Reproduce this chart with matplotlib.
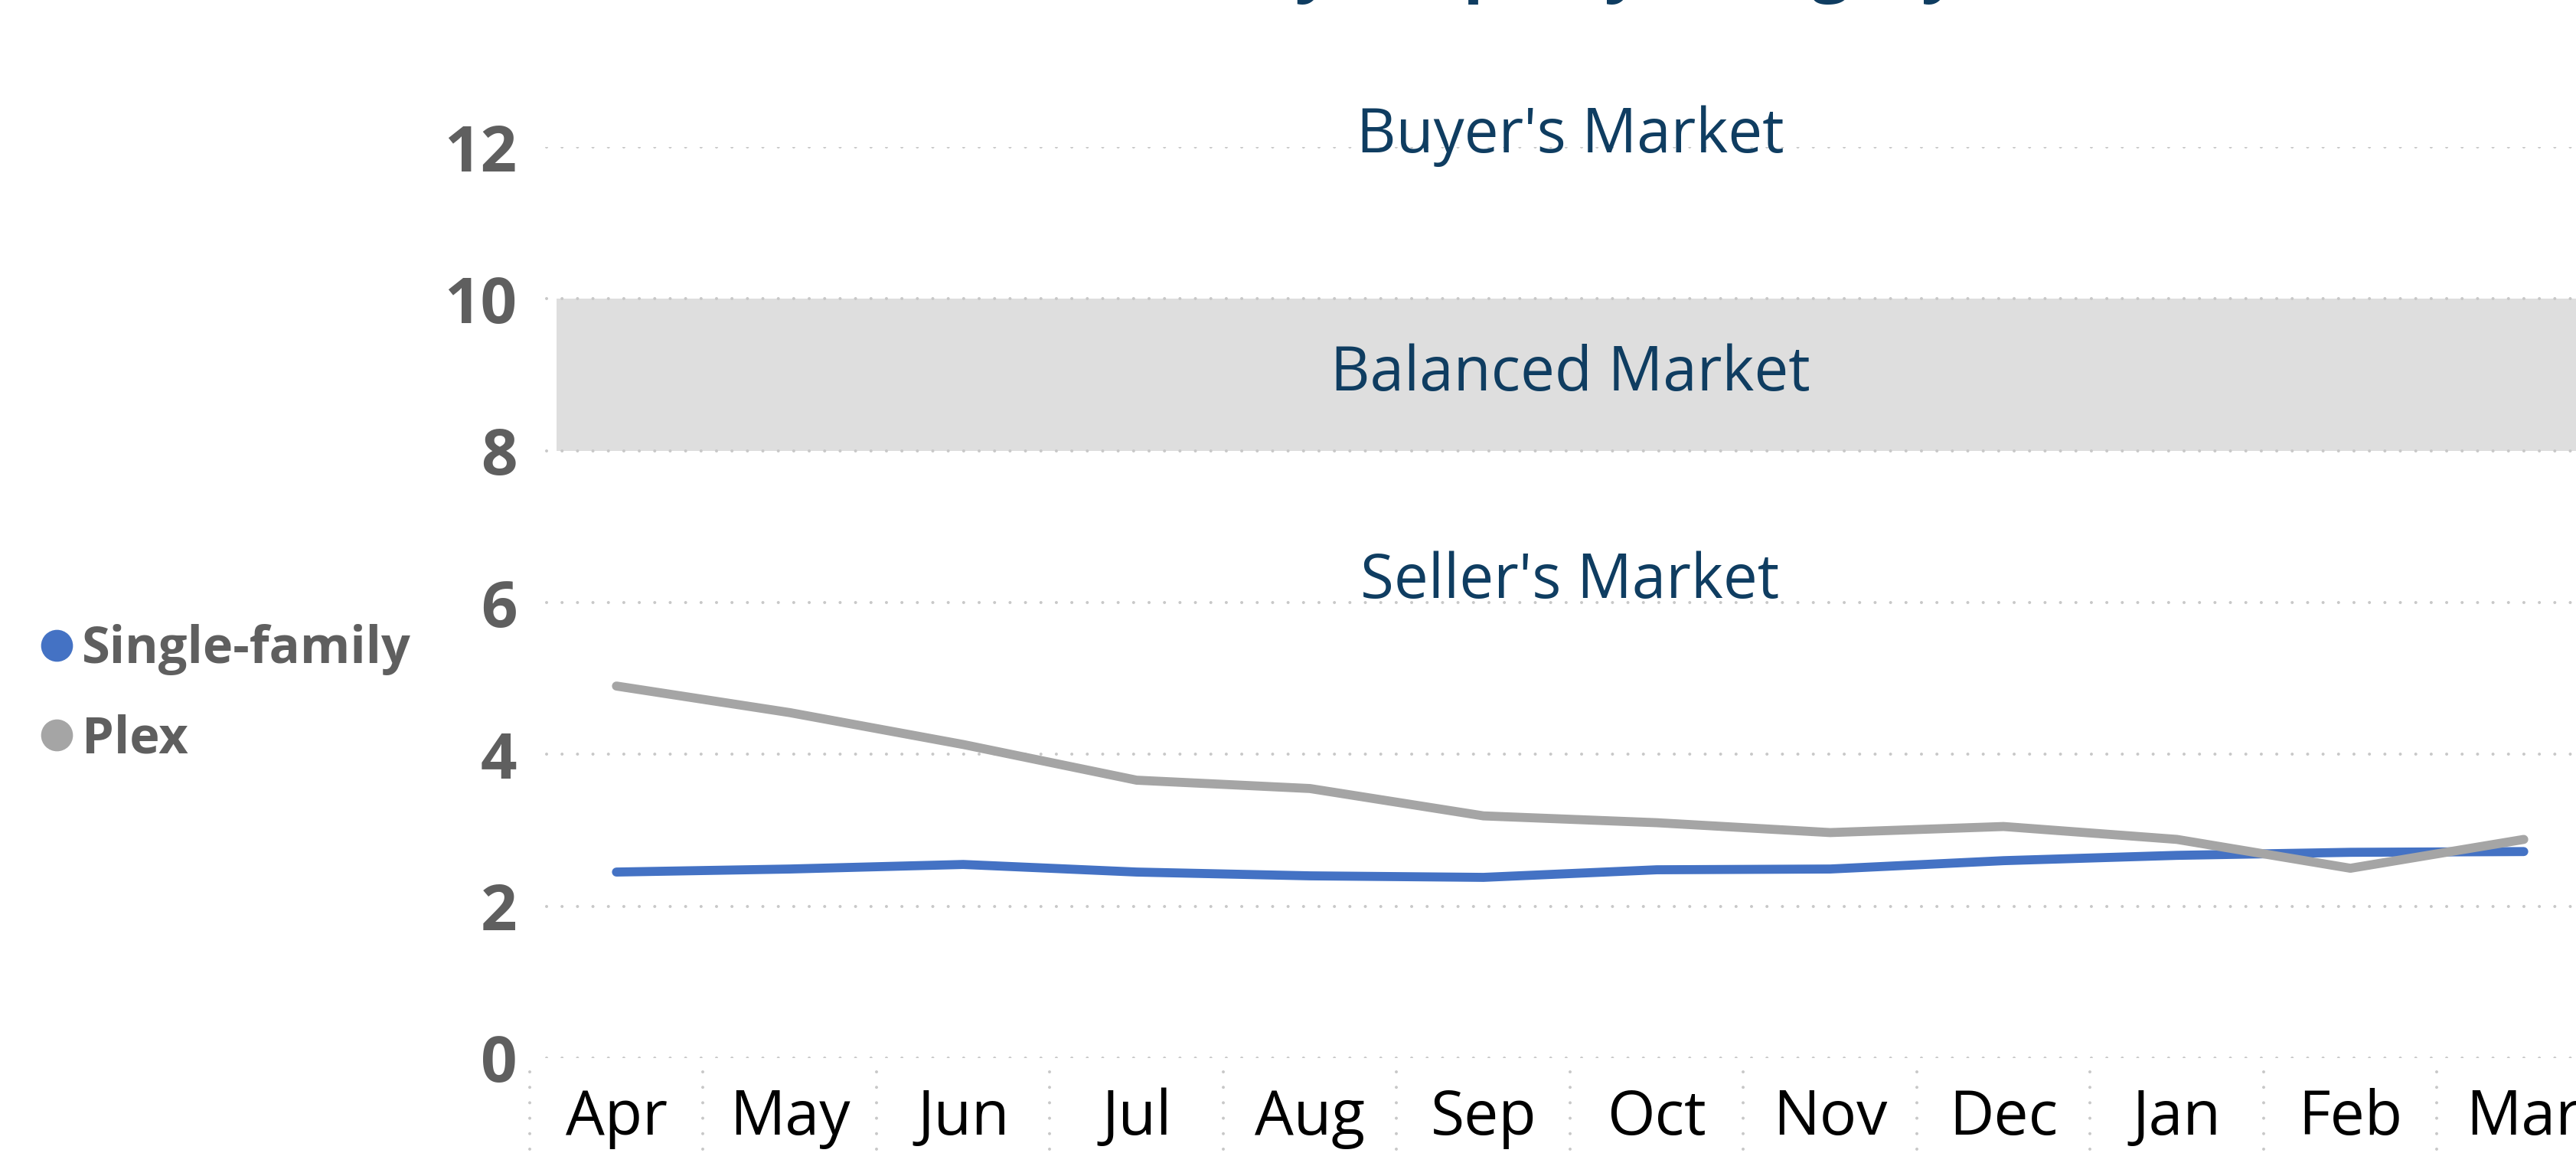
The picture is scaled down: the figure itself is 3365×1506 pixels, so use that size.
import matplotlib.pyplot as plt
from matplotlib.lines import Line2D

plt.rcParams['font.family'] = ['Open Sans', 'DejaVu Sans']

# Months of inventory by month
months = ['Apr', 'May', 'Jun', 'Jul', 'Aug', 'Sep', 'Oct', 'Nov', 'Dec', 'Jan', 'Feb', 'Mar']
single_family = [2.45, 2.49, 2.55, 2.45, 2.40, 2.38, 2.48, 2.49, 2.60, 2.67, 2.71, 2.72]
plex = [4.90, 4.55, 4.13, 3.66, 3.55, 3.19, 3.10, 2.97, 3.05, 2.88, 2.50, 2.88]
y_ticks = [0, 2, 4, 6, 8, 10, 12]
zones = ["Buyer's Market", "Balanced Market", "Seller's Market"]
zone_y = [11.93, 8.79, 6.06]

blue = '#4472C4'
grey = '#A5A5A5'
navy = '#0F3D61'
label_grey = '#5F5F5F'
grid_col = '#C8C8C8'
dots = (0, (0.01, 5.0))

W, H = 3366, 1506
fig = plt.figure(figsize=(W / 100, H / 100), dpi=100)
ax = fig.add_axes([692 / W, 1 - 1382 / H, 2718 / W, (1382 - 192) / H])

x = list(range(len(months)))

# balanced market band
ax.axhspan(8, 10, xmin=0.013, xmax=1, color='#DEDEDE', lw=0, zorder=0)

# dotted gridlines
for t in y_ticks:
    ax.axhline(t, xmin=0.008, xmax=1, color=grid_col, lw=2.9,
               linestyle=dots, dash_capstyle='round', zorder=1)

# dotted separators between month labels
ax.vlines([i - 0.5 for i in range(len(months) + 1)], -0.18, -1.4,
          colors=grid_col, lw=2.9, linestyles=[dots], capstyle='round',
          clip_on=False)

ax.plot(x, single_family, color=blue, lw=8.5, solid_capstyle='round',
        solid_joinstyle='round', zorder=3)
ax.plot(x, plex, color=grey, lw=8.5, solid_capstyle='round',
        solid_joinstyle='round', zorder=4)

for txt, yy in zip(zones, zone_y):
    ax.text(5.5, yy, txt, ha='center', va='baseline', fontsize=57.5,
            color=navy, clip_on=False)

ax.set_xlim(-0.5, 11.5)
ax.set_ylim(0, 12)
ax.set_xticks(x)
ax.set_xticklabels(months, fontsize=58, color='black')
ax.set_yticks(y_ticks)
ax.set_yticklabels([str(t) for t in y_ticks], fontsize=60,
                   fontweight='bold', color=label_grey)
ax.tick_params(axis='x', length=0, pad=28)
ax.tick_params(axis='y', length=0, pad=12)
for s in ax.spines.values():
    s.set_visible(False)

handles = [Line2D([], [], marker='o', linestyle='None', color=blue, markersize=29),
           Line2D([], [], marker='o', linestyle='None', color=grey, markersize=29)]
fig.legend(handles, ['Single-family', 'Plex'], loc='center left',
           bbox_to_anchor=(0.014, 1 - 907 / H), frameon=False,
           prop={'size': 48, 'weight': 'bold'}, labelcolor=label_grey,
           handlelength=0.8, handletextpad=0.1, labelspacing=0.75,
           borderpad=0, borderaxespad=0)

# title sits mostly above the canvas, only its descenders show
fig.text(0.5, 1 + 15 / H, 'Market Conditions by Property Category',
         ha='center', va='baseline', fontsize=63, fontweight='bold', color=navy)

fig.savefig('out.png', dpi=100)
